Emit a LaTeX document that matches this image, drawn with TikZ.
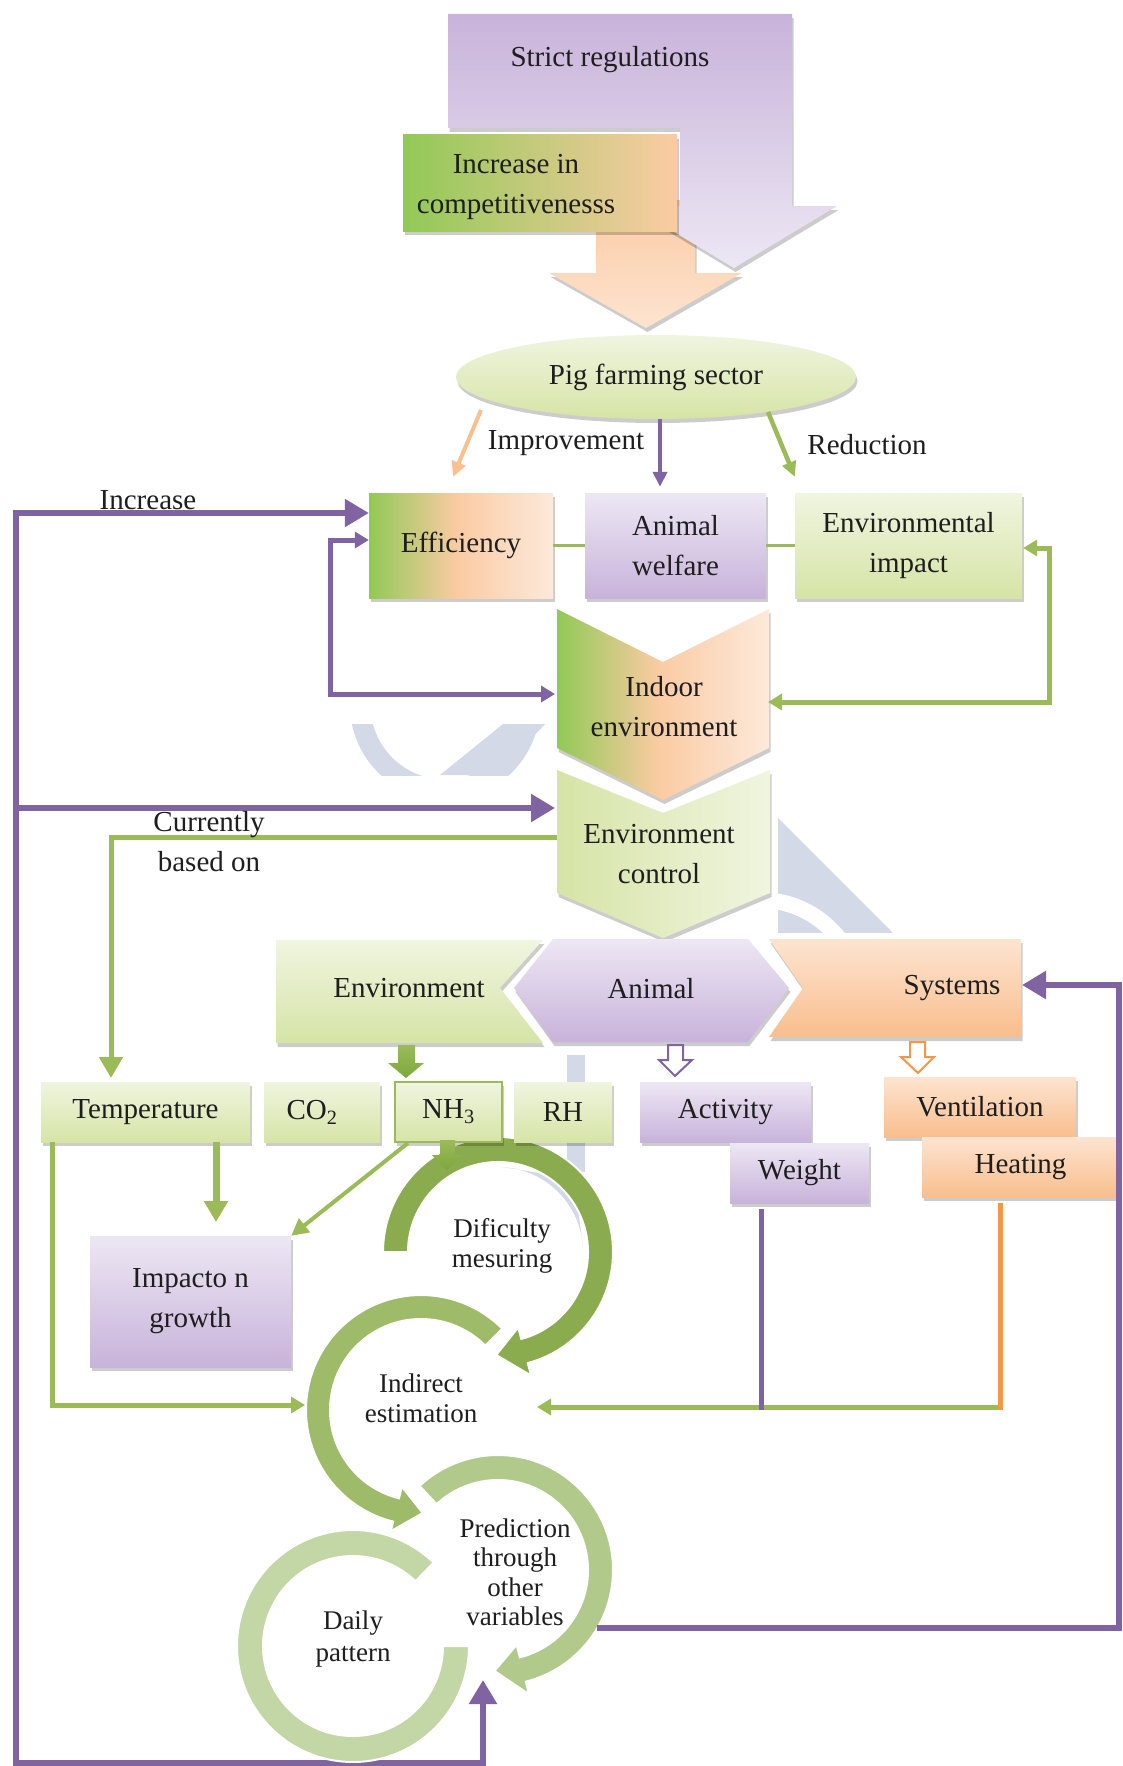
\documentclass[tikz,border=0pt]{standalone}
\usepackage{fontspec}
\setmainfont{Liberation Serif}
\usetikzlibrary{arrows.meta,shapes.geometric,shadows,calc}

\definecolor{purpD}{HTML}{C8B3DA}
\definecolor{purpL}{HTML}{EDE7F4}
\definecolor{grnD}{HTML}{D6E4A6}
\definecolor{grnL}{HTML}{F0F5E0}
\definecolor{orgD}{HTML}{F9BE8E}
\definecolor{orgL}{HTML}{FDE4D0}
\definecolor{effG}{HTML}{92C957}
\definecolor{effP}{HTML}{FBCBA3}
\definecolor{effW}{HTML}{FDE9DA}
\definecolor{lnP}{HTML}{8064A2}
\definecolor{lnG}{HTML}{9BBB59}
\definecolor{lnO}{HTML}{F79646}
\definecolor{lnOl}{HTML}{FAC08F}
\definecolor{ringA}{HTML}{8AAC4E}
\definecolor{ringB}{HTML}{9DBB69}
\definecolor{ringC}{HTML}{B1C98B}
\definecolor{ringD}{HTML}{C3D6A6}
\definecolor{blkG}{HTML}{7DA83D}
\definecolor{wmark}{HTML}{D3D9E7}
\definecolor{ink}{HTML}{1E1E1E}

\pgfdeclarehorizontalshading{effshade}{100bp}{color(0bp)=(effG); color(25bp)=(effG); color(49bp)=(effP); color(75bp)=(effW); color(100bp)=(effW)}

\begin{document}
\begin{tikzpicture}[x=1pt,y=-1pt,
  txt/.style={font=\fontsize{29}{40}\selectfont, text=ink, align=center, inner sep=0pt},
  rtxt/.style={font=\fontsize{27}{29.5}\selectfont, text=ink, align=center, inner sep=0pt},
  cbox/.style={txt, rectangle},
  shad/.style={drop shadow={shadow xshift=1.5pt, shadow yshift=-4pt, opacity=0.2, fill=black}},
  purpbox/.style={top color=purpL, bottom color=purpD},
  grnbox/.style={top color=grnL, bottom color=grnD},
  orgbox/.style={top color=orgL, bottom color=orgD},
  pline/.style={draw=lnP, line width=5.5pt},
  gline/.style={draw=lnG, line width=5pt},
  oline/.style={draw=lnO, line width=5pt},
  tipL/.tip={Triangle[length=24pt,width=27pt]},
  tipM/.tip={Triangle[length=21pt,width=23pt]},
  tipN/.tip={Triangle[length=17pt,width=17pt]},
  tipS/.tip={Triangle[length=14pt,width=16pt]},
  tipT/.tip={Triangle[length=15pt,width=14pt]},
  ring/.style={draw=white, line width=2pt},
]
\useasboundingbox (0,0) rectangle (1123,1766);
\fill[white] (0,0) rectangle (1123,1766);

% ---- faint background logo fragments
\begin{scope}
  \clip (340,724) rectangle (560,775);
  \fill[wmark, even odd rule] (445,705) circle[radius=95] (445,705) circle[radius=74.5];
  \fill[wmark] (503,724) -- (545,724) -- (497,775) -- (440,775) -- cycle;
\end{scope}
\begin{scope}
  \clip (778,818) -- (778,933) -- (893,933) -- cycle;
  \fill[wmark] (778,818) rectangle (893,933);
  \fill[white, even odd rule] (760,1000) circle[radius=108] (760,1000) circle[radius=92];
\end{scope}
\fill[wmark] (567,1055) rectangle (585,1172);

% ---- drivers at the top
\path[top color=effP, bottom color=orgL, shad]
  (596,200) -- (695,200) -- (695,273) -- (742,273) -- (646,328) -- (549,273) -- (596,273) -- cycle;
\path[top color=purpD, bottom color=purpL, shad]
  (448,14) -- (792,14) -- (792,206) -- (837,206) -- (734,268) -- (631,206) -- (680,206) -- (680,128) -- (448,128) -- cycle;
\node[txt] (strict) at (610,60) {Strict regulations};
\node[cbox, left color=effG, right color=effP, minimum width=274pt, minimum height=96pt, shad] (compbox) at (540,183) {};
\node[txt] (compet) at (516,187) {Increase in\\competitivenesss};

% ---- sector and its goals
\node[ellipse, txt, minimum width=400pt, minimum height=84pt, top color=grnL, bottom color=grnD, shad] (pig) at (656,377) {Pig farming sector};

\node[cbox, shading=effshade, shade, minimum width=184pt, minimum height=105pt, shad] (eff) at (461,545.5) {Efficiency};
\node[cbox, purpbox, minimum width=181pt, minimum height=105pt, shad] (welfare) at (675.5,545.5) {Animal\\welfare};
\node[cbox, grnbox, minimum width=227pt, minimum height=105pt, shad] (envimp) at (908.5,545.5) {Environmental\\impact};

\draw[draw=lnOl, line width=4pt, -tipT] ([shift={(-175,33)}]pig.center) -- ([shift={(-8,-16)}]eff.north);
\draw[draw=lnP, line width=4.5pt, -tipT] ([xshift=4pt]pig.south) -- ([shift={(-15.5,-6)}]welfare.north);
\draw[draw=lnG, line width=4.5pt, -tipT] ([shift={(112,35)}]pig.center) -- ([shift={(0,-16)}]envimp.north west);
\node[txt] (impr) at (566,443) {Improvement};
\node[txt] (reduc) at (867,445) {Reduction};

\draw[draw=lnG, line width=3pt] (eff.east) -- (welfare.west);
\draw[draw=lnG, line width=3pt] (welfare.east) -- (envimp.west);

% ---- indoor environment and its control
\path[shading=effshade, shade, shad] (557,609) -- (663,662) -- (769,609) -- (769,748) -- (663,800) -- (557,748) -- cycle;
\node[txt] (indoor) at (664,707) {Indoor\\environment};
\path[left color=grnD, right color=grnL, shad] (557,770) -- (663,813) -- (770,770) -- (770,893) -- (663,938) -- (557,893) -- cycle;
\node[txt] (ctrl) at (659,854) {Environment\\control};
\coordinate (indoorW) at (555,694);
\coordinate (indoorE) at (768,702);
\coordinate (ctrlW) at (555,808);
\coordinate (ctrlWg) at (557,837);

% ---- feedback loops
\coordinate (spA) at (16,513);
\coordinate (spB) at (16,808);
\coordinate (spC) at (16,1763);
\coordinate (dailyIn) at (483,1680);
\draw[pline, tipL-tipL] (eff.west |- spA) -- (spA) -- (spC) -| (dailyIn);
\draw[pline, -tipL] (spB) -- (ctrlW);
\node[txt] (incr) at (148,500) {Increase};
\draw[draw=lnP, line width=5pt, tipS-tipS] ([shift={(0,-5.5)}]eff.west) -- ++(-38,0) |- (indoorW);
\draw[gline, tipS-tipS] ([shift={(1,2.5)}]envimp.east) -- ++(26,0) |- (indoorE);

\coordinate (tempIn) at (111,1078);
\draw[gline, -tipM] (ctrlWg) -| (tempIn);
\node[txt] (curr) at (209,842) {Currently\\based on};

% ---- categories
\path[grnbox, shad] (276,940) -- (543,940) -- (500,988) -- (543,1043) -- (276,1043) -- cycle;
\node[txt] (envcat) at (409,988) {Environment};
\path[purpbox, shad] (514,988) -- (553,939) -- (748,939) -- (789,988) -- (748,1042) -- (553,1042) -- cycle;
\node[txt] (animal) at (651,989) {Animal};
\path[orgbox, shad] (769,939) -- (1021,939) -- (1021,1037) -- (769,1037) -- (803,988) -- cycle;
\node[txt] (systems) at (952,988) {Systems};
\coordinate (sysE) at (1022,985);

% ---- circular process arrows
\coordinate (D) at (498,1252);
\coordinate (I) at (421,1410);
\coordinate (P) at (498,1570);
\coordinate (Q) at (353,1646);

\fill[wmark] ($(D)+(-87:85)$) arc[start angle=-87, end angle=-3, radius=85] .. controls (575,1178) .. ($(D)+(-87:85)$) -- cycle;

\node[rtxt] (predict) at (515,1572) {Prediction\\through\\other\\variables};
\path[ring, fill=ringD] (Q) ++(-46:116) arc[start angle=-46, end angle=-360, radius=116]
  -- ($(Q)+(-360:90)$) arc[start angle=-360, end angle=-46, radius=90] -- cycle;
\path[ring, fill=ringC] (P) ++(-133:115) arc[start angle=-133, end angle=76, radius=115]
  -- ($(P)+(76:128)$) -- ($(P)+(92:101)$) -- ($(P)+(76:77)$) -- ($(P)+(76:90)$)
  arc[start angle=76, end angle=-133, radius=90] -- cycle;
\path[ring, fill=ringB] (I) ++(-45:115) arc[start angle=-45, end angle=-256, radius=115]
  -- ($(I)+(-256:125)$) -- ($(I)+(-271:103)$) -- ($(I)+(-256:79)$) -- ($(I)+(-256:91)$)
  arc[start angle=-256, end angle=-45, radius=91] -- cycle;
\path[ring, fill=ringA] (D) ++(-180:115) arc[start angle=-180, end angle=75, radius=115]
  -- ($(D)+(75:128)$) -- ($(D)+(91:103)$) -- ($(D)+(75:78)$) -- ($(D)+(75:90)$)
  arc[start angle=75, end angle=-180, radius=90] -- cycle;
\node[rtxt] (dific) at (502,1246) {Dificulty\\mesuring};
\node[rtxt] (indir) at (421,1398) {Indirect\\estimation};
\node[rtxt, font=\fontsize{27}{32}\selectfont] (daily) at (353,1639) {Daily\\pattern};

% ---- measured variables
\node[cbox, grnbox, minimum width=209pt, minimum height=60pt, shad] (temp) at (145.5,1112) {Temperature};
\node[cbox, grnbox, minimum width=116pt, minimum height=60pt, shad] (co2) at (322,1112) {CO\textsubscript{2}\hspace{20pt}};
\node[cbox, grnbox, draw=lnG, line width=2pt, minimum width=107pt, minimum height=60pt, shad] (nh3) at (448.5,1112) {NH\textsubscript{3}};
\node[cbox, grnbox, minimum width=98pt, minimum height=60pt, shad] (rh) at (563,1112) {RH};
\node[cbox, purpbox, minimum width=171pt, minimum height=60pt, shad] (activity) at (725.5,1112) {Activity};
\node[cbox, purpbox, minimum width=139pt, minimum height=60pt, shad] (weight) at (799.5,1173) {Weight};
\node[cbox, orgbox, minimum width=192pt, minimum height=60pt, shad] (vent) at (980,1107) {Ventilation};
\node[cbox, orgbox, minimum width=197pt, minimum height=60pt, shad] (heat) at (1020.5,1167) {Heating};
\node[cbox, purpbox, minimum width=201pt, minimum height=131pt, shad] (impact) at (190.5,1301.5) {Impacto n\\growth};

% ---- block arrows from the categories
\path[top color=lnG, bottom color=blkG] (398,1045) -- (415,1045) -- (415,1063) -- (424,1063) -- (406,1078) -- (388,1063) -- (398,1063) -- cycle;
\draw[draw=lnP, line width=2pt, fill=white] (668,1045) -- (683,1045) -- (683,1060) -- (692,1060) -- (675,1076) -- (659,1060) -- (668,1060) -- cycle;
\draw[draw=lnO, line width=2pt, fill=white] (910,1042) -- (925,1042) -- (925,1057) -- (934,1057) -- (918,1073) -- (901,1057) -- (910,1057) -- cycle;
\path[top color=lnG, bottom color=blkG] (440,1140) -- (455,1140) -- (455,1155) -- (463,1155) -- (447,1170) -- (432,1155) -- (440,1155) -- cycle;

% ---- links into the estimation loop
\coordinate (impIn) at (216,1222);
\draw[gline, line width=7pt, -tipM] (temp.south -| impIn) -- (impIn);
\draw[gline, line width=4pt, -tipN] ([xshift=-40.5pt]nh3.south) -- (impact.north east);
\coordinate (indirW) at (305,1405);
\draw[gline, -tipS] ([xshift=-93.5pt]temp.south) |- (indirW);

\coordinate (hj) at (1000,1407);
\coordinate (wj) at (761,1407);
\coordinate (indirE) at (537,1407);
\draw[gline, -tipS] ([xshift=2.5pt]hj) -- (indirE);
\draw[pline, line width=5pt] ([yshift=-6pt]weight.south -| wj) -- ([yshift=-3pt]wj);
\draw[oline] ([yshift=-6pt]heat.south -| hj) -- ([yshift=-3pt]hj);

\coordinate (predE) at (597,1628);
\draw[pline, -tipL] (predE) -| (1119,985) -- (sysE);
\end{tikzpicture}
\end{document}
